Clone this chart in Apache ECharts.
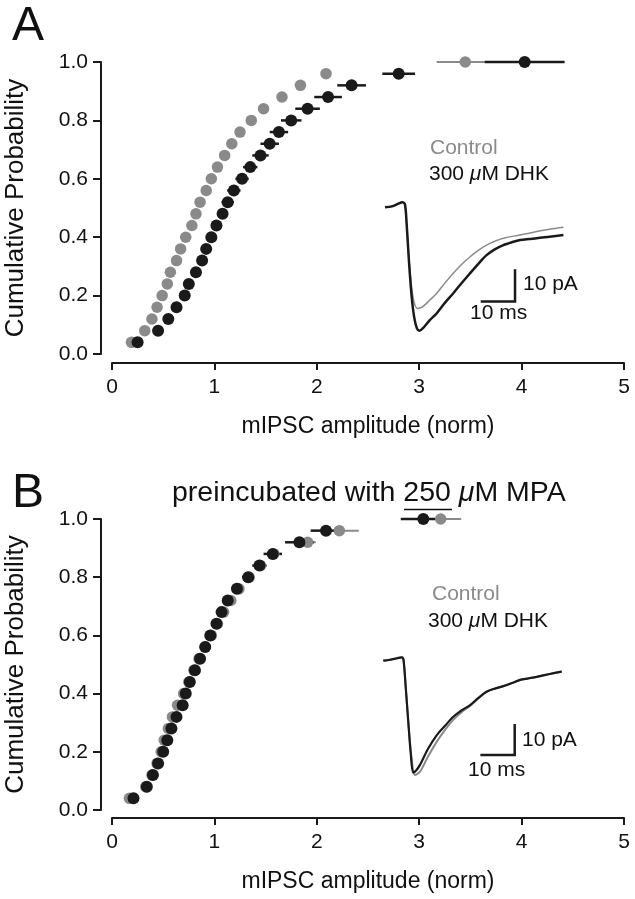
<!DOCTYPE html>
<html>
<head>
<meta charset="utf-8">
<script src="https://cdn.jsdelivr.net/npm/echarts@6/dist/echarts.min.js"></script>
<style>html,body{margin:0;padding:0;background:#fff}#c{width:635px;height:899px}</style>
</head>
<body>
<div id="c"></div>
<script>
// ---- data ----
const cumProb = [0.04,0.08,0.12,0.16,0.20,0.24,0.28,0.32,0.36,0.40,0.44,0.48,0.52,0.56,0.60,0.64,0.68,0.72,0.76,0.80,0.84,0.88,0.92,0.96,1.00];
const xTicks = [0,1,2,3,4,5];
const yTicks = [0,0.2,0.4,0.6,0.8,1.0];

// Panel A
const aControlAmp = [0.19,0.32,0.39,0.44,0.49,0.54,0.57,0.63,0.67,0.72,0.78,0.82,0.86,0.92,0.97,1.03,1.10,1.17,1.25,1.36,1.48,1.66,1.84,2.09,3.45];
const aControlErr = [0.01,0.01,0.01,0.01,0.01,0.01,0.01,0.02,0.02,0.02,0.02,0.02,0.02,0.02,0.03,0.03,0.03,0.03,0.03,0.03,0.04,0.04,0.04,0.05,0.28];
const aDhkAmp = [0.25,0.45,0.55,0.63,0.71,0.75,0.82,0.88,0.92,0.97,1.02,1.08,1.13,1.19,1.27,1.35,1.45,1.54,1.63,1.75,1.91,2.11,2.34,2.80,4.03];
const aDhkErr = [0.02,0.02,0.03,0.03,0.03,0.04,0.04,0.04,0.05,0.05,0.05,0.05,0.06,0.065,0.065,0.07,0.08,0.09,0.09,0.10,0.12,0.135,0.14,0.16,0.39];

// Panel B
const bControlAmp = [0.17,0.33,0.39,0.44,0.48,0.51,0.55,0.59,0.64,0.70,0.75,0.80,0.85,0.91,0.97,1.03,1.09,1.16,1.24,1.34,1.45,1.58,1.91,2.22,3.21];
const bControlErr = [0.01,0.01,0.01,0.01,0.01,0.02,0.02,0.02,0.02,0.02,0.02,0.02,0.03,0.03,0.03,0.03,0.03,0.03,0.04,0.04,0.04,0.05,0.08,0.19,0.20];
const bDhkAmp = [0.21,0.34,0.40,0.45,0.50,0.54,0.58,0.63,0.69,0.72,0.76,0.81,0.86,0.91,0.96,1.02,1.07,1.13,1.22,1.33,1.44,1.57,1.83,2.09,3.04];
const bDhkErr = [0.01,0.01,0.02,0.02,0.02,0.02,0.02,0.03,0.03,0.03,0.03,0.03,0.03,0.04,0.04,0.04,0.04,0.05,0.05,0.06,0.07,0.09,0.14,0.15,0.22];

// Inset traces: [time (ms), current (pA)]
const aTraceControl = [[0,0],[2,0.3],[4,1.2],[5,1.6],[5.8,1.0],[6.3,-5],[7,-16],[7.8,-25],[8.5,-29.5],[9.5,-31.3],[10.5,-31],[11.2,-30.6],[13,-28.8],[15.1,-26.6],[17.5,-23.4],[19.9,-20.4],[22.3,-17.7],[24.8,-15.3],[27.2,-13.3],[29.6,-11.7],[32,-10.5],[34.5,-9.6],[37,-9],[39.4,-8.6],[42,-8],[44.2,-7.5],[48,-6.8],[52,-6.2]];
const aTraceDhk = [[0,0],[2,0.3],[4,1.2],[5,1.6],[5.8,1.0],[6.3,-5],[7,-17],[7.8,-28],[8.5,-34],[9.3,-37.5],[10,-38.2],[11,-37.5],[13,-35],[15.1,-32.8],[17.5,-29.5],[19.9,-26.6],[22.3,-23.5],[24.8,-20.4],[27.2,-17.5],[29.6,-14.8],[32,-13],[34.5,-11.7],[37,-10.8],[39.4,-10.1],[42,-9.8],[44.2,-9.6],[48,-9.1],[52,-8.6]];
const bTraceControl = [[0,0],[2,0.3],[4,0.8],[5.4,1.1],[5.9,0.2],[6.5,-8],[7.3,-20],[8.2,-31],[9.2,-36.9],[10.7,-35.8],[13,-31],[15.6,-26.1],[18,-22.3],[20.4,-19.1],[22.8,-16.6],[25.3,-14.6],[27.7,-12.2],[30.1,-10],[32.5,-9],[35,-8.2],[37.5,-7.2],[39.9,-6.2],[42.3,-5.7],[44.7,-5.2],[48.5,-4.3],[52,-3.5]];
const bTraceDhk = [[0,0],[2,0.3],[4,0.8],[5.4,1.1],[5.9,0.2],[6.5,-8],[7.3,-20],[8,-30],[8.7,-36.1],[9.5,-35.5],[10.7,-33.6],[13,-28.5],[15.6,-24],[18,-21],[20.4,-18.1],[22.8,-16],[25.3,-14.3],[27.7,-12],[30.1,-10],[32.5,-9],[35,-8.2],[37.5,-7.2],[39.9,-6.2],[42.3,-5.7],[44.7,-5.2],[48.5,-4.3],[52,-3.5]];

// scale bars: 10 ms, 10 pA, anchored at corner (time, current)
const barMs = 10, barPA = 10;
const aBarCorner = [37.9, -29.2];
const bBarCorner = [38.3, -30.4];

// ---- chart ----
const FONT = "'Liberation Sans', Arial, Helvetica, sans-serif";
const GRAY = '#8a8a8a', BLACK = '#1a1a1a';
const chart = echarts.init(document.getElementById('c'), null, {renderer: 'canvas'});

function zip(xs, es){ return xs.map((x,i)=>[x, cumProb[i], es[i]]); }

function errSeries(xs, es, color, w, ax){
  return {
    type:'custom', xAxisIndex:ax, yAxisIndex:ax, clip:false, silent:true,
    data: zip(xs, es), encode:{x:0, y:1},
    renderItem:(params, api)=>{
      const x=api.value(0), y=api.value(1), e=api.value(2);
      const p1=api.coord([x-e,y]), p2=api.coord([x+e,y]);
      return {type:'line', shape:{x1:p1[0],y1:p1[1],x2:p2[0],y2:p2[1]}, style:{stroke:color, lineWidth:w}};
    }
  };
}
function dotSeries(xs, color, size, ax){
  return {type:'scatter', xAxisIndex:ax, yAxisIndex:ax, symbol:'circle', symbolSize:size,
    itemStyle:{color:color, opacity:1}, data: xs.map((x,i)=>[x, cumProb[i]]), silent:true, z:3};
}
function traceSeries(d, color, w, ax){
  return {type:'line', xAxisIndex:ax, yAxisIndex:ax, data:d, showSymbol:false, smooth:0.3,
    lineStyle:{color:color, width:w}, silent:true, z:3};
}
function barSeries(corner, ax){
  const d = [[corner[0]-barMs, corner[1]], corner, [corner[0], corner[1]+barPA]];
  return {type:'line', xAxisIndex:ax, yAxisIndex:ax, data:d, showSymbol:false,
    lineStyle:{color:BLACK, width:2.5, cap:'butt', join:'miter'}, silent:true};
}

function mainX(gi){
  return {gridIndex:gi, type:'value', min:0, max:5, interval:1, offset: gi===0?9:8,
    axisLine:{show:true, onZero:false, lineStyle:{color:BLACK, width:2}},
    axisTick:{show:true, length:7, lineStyle:{color:BLACK, width:2}},
    axisLabel:{fontFamily:FONT, fontSize:21, color:'#111', margin:14},
    splitLine:{show:false},
    name:'mIPSC amplitude (norm)', nameLocation:'middle', nameGap:52,
    nameTextStyle:{fontFamily:FONT, fontSize:23, color:'#111'}};
}
function mainY(gi){
  return {gridIndex:gi, type:'value', min:0, max:1, interval:0.2, offset:11,
    axisLine:{show:true, onZero:false, lineStyle:{color:BLACK, width:2}},
    axisTick:{show:true, length:8, lineStyle:{color:BLACK, width:2}},
    axisLabel:{fontFamily:FONT, fontSize:21, color:'#111', margin:13, formatter:v=>v.toFixed(1)},
    splitLine:{show:false},
    name:'Cumulative Probability', nameLocation:'middle', nameGap:72,
    nameTextStyle:{fontFamily:FONT, fontSize:26, color:'#111'}};
}
function insetX(gi){ return {gridIndex:gi, type:'value', min:0, max:52, show:false}; }
function insetY(gi, mn, mx){ return {gridIndex:gi, type:'value', min:mn, max:mx, show:false}; }

const textStyle = (size, color)=>({fontFamily:FONT, fontSize:size, fill:color});
const G = {containLabel:false, outerBoundsMode:'none'};

const option = {
  animation:false,
  backgroundColor:'#fff',
  grid:[
    Object.assign({left:112, top:62, width:512, height:292}, G),
    Object.assign({left:112, top:519, width:512, height:291}, G),
    Object.assign({left:385, top:194.4, width:178.4, height:142.1}, G),
    Object.assign({left:383.3, top:654.5, width:178.4, height:124}, G)
  ],
  xAxis:[mainX(0), mainX(1), insetX(2), insetX(3)],
  yAxis:[mainY(0), mainY(1), insetY(2,-40,4), insetY(3,-38,2)],
  series:[
    errSeries(aControlAmp, aControlErr, GRAY, 2, 0),
    dotSeries(aControlAmp, GRAY, 11.5, 0),
    errSeries(aDhkAmp, aDhkErr, BLACK, 2.5, 0),
    dotSeries(aDhkAmp, BLACK, 12, 0),
    errSeries(bControlAmp, bControlErr, GRAY, 2, 1),
    dotSeries(bControlAmp, GRAY, 11.5, 1),
    errSeries(bDhkAmp, bDhkErr, BLACK, 2.5, 1),
    dotSeries(bDhkAmp, BLACK, 12, 1),
    traceSeries(aTraceControl, GRAY, 1.5, 2),
    traceSeries(aTraceDhk, BLACK, 2.5, 2),
    barSeries(aBarCorner, 2),
    traceSeries(bTraceControl, GRAY, 2, 3),
    traceSeries(bTraceDhk, BLACK, 2.2, 3),
    barSeries(bBarCorner, 3)
  ],
  graphic:[
    {type:'text', left:12, top:3, style:Object.assign({text:'A'}, textStyle(48, '#111'))},
    {type:'text', left:12, top:470, style:Object.assign({text:'B'}, textStyle(48, '#111'))},
    {type:'text', left:430, top:138, style:Object.assign({text:'Control'}, textStyle(21, GRAY))},
    {type:'text', left:429, top:164, style:{text:'300 {i|μ}M DHK', fontFamily:FONT, fontSize:21, fill:'#111', rich:{i:{fontFamily:FONT, fontSize:21, fontStyle:'italic', color:'#111'}}}},
    {type:'text', left:523, top:274, style:Object.assign({text:'10 pA'}, textStyle(21, '#111'))},
    {type:'text', left:470, top:303, style:Object.assign({text:'10 ms'}, textStyle(21, '#111'))},
    {type:'text', left:432, top:584, style:Object.assign({text:'Control'}, textStyle(21, GRAY))},
    {type:'text', left:428, top:611, style:{text:'300 {i|μ}M DHK', fontFamily:FONT, fontSize:21, fill:'#111', rich:{i:{fontFamily:FONT, fontSize:21, fontStyle:'italic', color:'#111'}}}},
    {type:'text', left:522, top:730, style:Object.assign({text:'10 pA'}, textStyle(21, '#111'))},
    {type:'text', left:468, top:760, style:Object.assign({text:'10 ms'}, textStyle(21, '#111'))},
    {type:'text', left:172, top:479, style:{text:'preincubated with 250 {i|μ}M MPA', fontFamily:FONT, fontSize:28.5, fill:'#111', rich:{i:{fontFamily:FONT, fontSize:28.5, fontStyle:'italic', color:'#111'}}}},
    {type:'line', shape:{x1:404, y1:509.5, x2:452, y2:509.5}, style:{stroke:'#111', lineWidth:1.5}}
  ]
};
chart.setOption(option);
</script>
</body>
</html>
